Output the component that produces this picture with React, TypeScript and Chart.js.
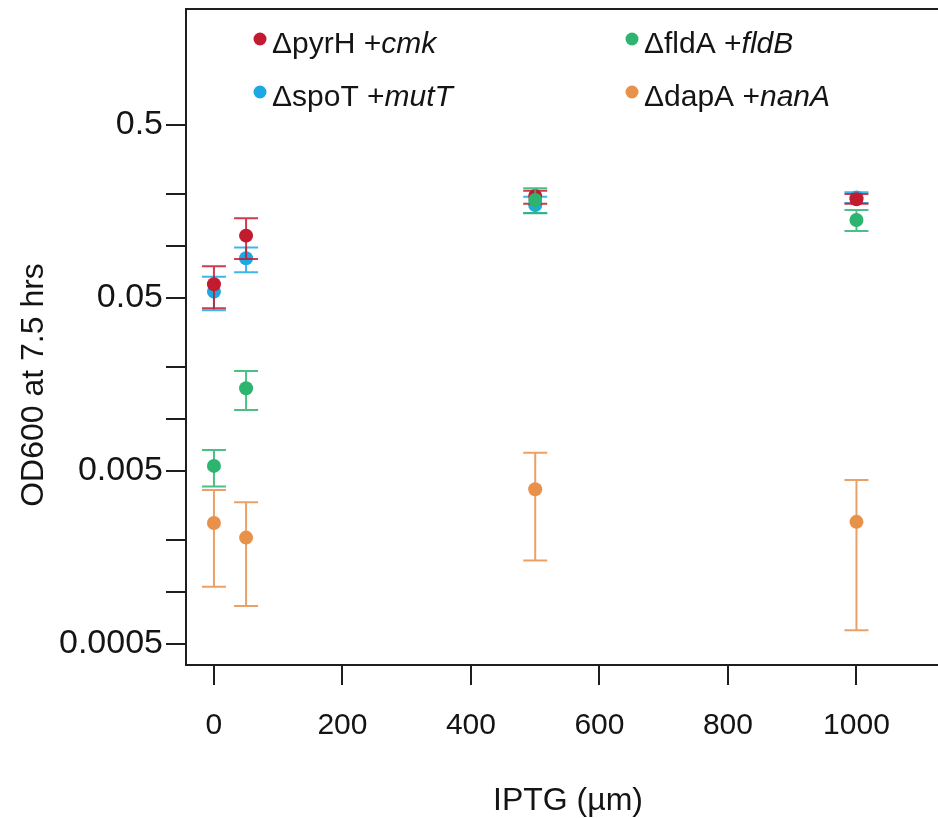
import React, { useEffect, useRef } from "react";
import { Chart, registerables } from "chart.js";

Chart.register(...registerables);

// ---------- data ----------
const iptg = [0, 50, 500, 1000];

const seriesNames = ["ΔpyrH +", "ΔfldA +", "ΔspoT +", "ΔdapA +"];
const seriesGenes = ["cmk", "fldB", "mutT", "nanA"];
const seriesColors = ["#C21B30", "#2DB46F", "#1CA9E3", "#E8914B"];
const seriesOrder = [1, 0, 2, 3];

const pyrHMean = [0.06, 0.1146, 0.1945, 0.186];
const pyrHLow = [0.0436, 0.084, 0.175, 0.175];
const pyrHHigh = [0.0762, 0.1445, 0.208, 0.1996];

const fldAMean = [0.00535, 0.01503, 0.184, 0.141];
const fldALow = [0.00406, 0.01127, 0.1545, 0.122];
const fldAHigh = [0.0066, 0.0189, 0.215, 0.1614];

const spoTMean = [0.0544, 0.0848, 0.172, 0.1905];
const spoTLow = [0.0425, 0.0705, 0.155, 0.177];
const spoTHigh = [0.0664, 0.098, 0.192, 0.204];

const dapAMean = [0.0025, 0.00206, 0.00392, 0.00254];
const dapALow = [0.00107, 0.00083, 0.00152, 0.0006];
const dapAHigh = [0.00388, 0.0033, 0.00638, 0.00443];

const xTickValues = [0, 200, 400, 600, 800, 1000];
const xTickLabels = ["0", "200", "400", "600", "800", "1000"];
const yTickValues = [0.5, 0.2, 0.1, 0.05, 0.02, 0.01, 0.005, 0.002, 0.001, 0.0005];
const yTickLabels = ["0.5", "", "", "0.05", "", "", "0.005", "", "", "0.0005"];

const xTitle = "IPTG (µm)";
const yTitle = "OD600 at 7.5 hrs";

const means = [pyrHMean, fldAMean, spoTMean, dapAMean];
const lows = [pyrHLow, fldALow, spoTLow, dapALow];
const highs = [pyrHHigh, fldAHigh, spoTHigh, dapAHigh];

// ---------- style ----------
const FONT = "'Liberation Sans', Arial, Helvetica, sans-serif";
const INK = "#141414";
const FRAME = "#1e1e1e";

const errorBarPlugin = {
  id: "errorBars",
  beforeDatasetDraw(chart: any, args: any) {
    const ds: any = chart.data.datasets[args.index];
    const { ctx } = chart;
    const xs = chart.scales.x;
    const ys = chart.scales.y;
    ctx.save();
    ctx.strokeStyle = ds.backgroundColor;
    ctx.globalAlpha = 0.85;
    ctx.lineWidth = 2;
    const half = 12;
    ds.data.forEach((pt: any, i: number) => {
      const px = xs.getPixelForValue(pt.x);
      const top = ys.getPixelForValue(ds.errHigh[i]);
      const bot = ys.getPixelForValue(ds.errLow[i]);
      ctx.beginPath();
      ctx.moveTo(px, top);
      ctx.lineTo(px, bot);
      ctx.moveTo(px - half, top);
      ctx.lineTo(px + half, top);
      ctx.moveTo(px - half, bot);
      ctx.lineTo(px + half, bot);
      ctx.stroke();
    });
    ctx.restore();
  },
};

const framePlugin = {
  id: "frame",
  afterDraw(chart: any) {
    const { ctx, chartArea: a } = chart;
    ctx.save();
    ctx.strokeStyle = FRAME;
    ctx.lineWidth = 2;
    ctx.beginPath();
    ctx.moveTo(chart.width, a.top);
    ctx.lineTo(a.left, a.top);
    ctx.lineTo(a.left, a.bottom);
    ctx.lineTo(chart.width, a.bottom);
    ctx.stroke();
    ctx.restore();
  },
};

const titlePlugin = {
  id: "axisTitles",
  afterDraw(chart: any) {
    const { ctx, chartArea: a } = chart;
    ctx.save();
    ctx.fillStyle = INK;
    ctx.font = `32px ${FONT}`;
    ctx.textAlign = "center";
    ctx.textBaseline = "middle";
    ctx.fillText(xTitle, a.left + 382, a.bottom + 136);
    ctx.translate(a.left - 152, a.top + 376);
    ctx.rotate(-Math.PI / 2);
    ctx.fillText(yTitle, 0, 0);
    ctx.restore();
  },
};

const legendPlugin = {
  id: "customLegend",
  afterDraw(chart: any) {
    const { ctx, chartArea: a } = chart;
    const colX = [a.left + 74, a.left + 446];
    const rowY = [a.top + 30, a.top + 83];
    const size = 30;
    chart.data.datasets.forEach((ds: any, i: number) => {
      const cx = colX[i % 2];
      const cy = rowY[Math.floor(i / 2)];
      ctx.save();
      ctx.fillStyle = ds.backgroundColor;
      ctx.beginPath();
      ctx.arc(cx, cy, 6.5, 0, Math.PI * 2);
      ctx.fill();
      ctx.fillStyle = INK;
      ctx.textBaseline = "alphabetic";
      ctx.textAlign = "left";
      ctx.font = `${size}px ${FONT}`;
      const tx = cx + 12;
      const ty = cy + 14;
      ctx.fillText(ds.legendName, tx, ty);
      const w = ctx.measureText(ds.legendName).width;
      ctx.font = `italic ${size}px ${FONT}`;
      ctx.fillText(ds.legendGene, tx + w, ty);
      ctx.restore();
    });
  },
};

export default function App() {
  const ref = useRef<HTMLCanvasElement | null>(null);

  useEffect(() => {
    if (!ref.current) return;
    const datasets = means.map((m, s) => ({
      label: seriesNames[s] + seriesGenes[s],
      legendName: seriesNames[s],
      legendGene: seriesGenes[s],
      data: m.map((v, i) => ({ x: iptg[i], y: v })),
      errLow: lows[s],
      errHigh: highs[s],
      backgroundColor: seriesColors[s],
      borderColor: seriesColors[s],
      borderWidth: 0,
      pointRadius: 7,
      pointHoverRadius: 7,
      showLine: false,
      order: seriesOrder[s],
    }));

    const chart = new Chart(ref.current, {
      type: "scatter",
      data: { datasets } as any,
      options: {
        animation: false,
        responsive: false,
        devicePixelRatio: 1,
        layout: { padding: { top: 9, left: 0, right: 0, bottom: 0 } },
        plugins: {
          legend: { display: false },
          tooltip: { enabled: false },
        },
        scales: {
          x: {
            type: "linear",
            min: -43.5,
            max: 1116,
            afterBuildTicks: (scale: any) => {
              scale.ticks = xTickValues.map((v) => ({ value: v }));
            },
            afterFit: (scale: any) => {
              scale.height = 153;
              scale.paddingLeft = 0;
              scale.paddingRight = 0;
            },
            border: { display: false },
            grid: {
              display: true,
              drawOnChartArea: false,
              drawTicks: true,
              tickLength: 20,
              color: FRAME,
              lineWidth: 2,
            },
            ticks: {
              autoSkip: false,
              maxRotation: 0,
              padding: 23,
              color: INK,
              font: { size: 30, family: FONT },
              callback: (value: any) => {
                const k = xTickValues.indexOf(Number(value));
                return k >= 0 ? xTickLabels[k] : "";
              },
            },
            title: { display: false },
          },
          y: {
            type: "logarithmic",
            min: 0.000378,
            max: 2.34,
            afterBuildTicks: (scale: any) => {
              scale.ticks = yTickValues.map((v) => ({ value: v }));
            },
            afterFit: (scale: any) => {
              scale.width = 186;
              scale.paddingTop = 0;
              scale.paddingBottom = 0;
            },
            border: { display: false },
            grid: {
              display: true,
              drawOnChartArea: false,
              drawTicks: true,
              tickLength: 20,
              color: FRAME,
              lineWidth: 2,
            },
            ticks: {
              autoSkip: false,
              padding: 3,
              color: INK,
              font: { size: 34, family: FONT },
              callback: (value: any) => {
                const k = yTickValues.indexOf(Number(value));
                return k >= 0 ? yTickLabels[k] : "";
              },
            },
            title: { display: false },
          },
        },
      },
      plugins: [errorBarPlugin, framePlugin, titlePlugin, legendPlugin],
    } as any);

    return () => chart.destroy();
  }, []);

  return (
    <div style={{ position: "absolute", left: 0, top: 0, width: 938, height: 818, overflow: "hidden", background: "#fff" }}>
      <canvas ref={ref} width={938} height={818} style={{ display: "block", width: 938, height: 818 }} />
    </div>
  );
}
